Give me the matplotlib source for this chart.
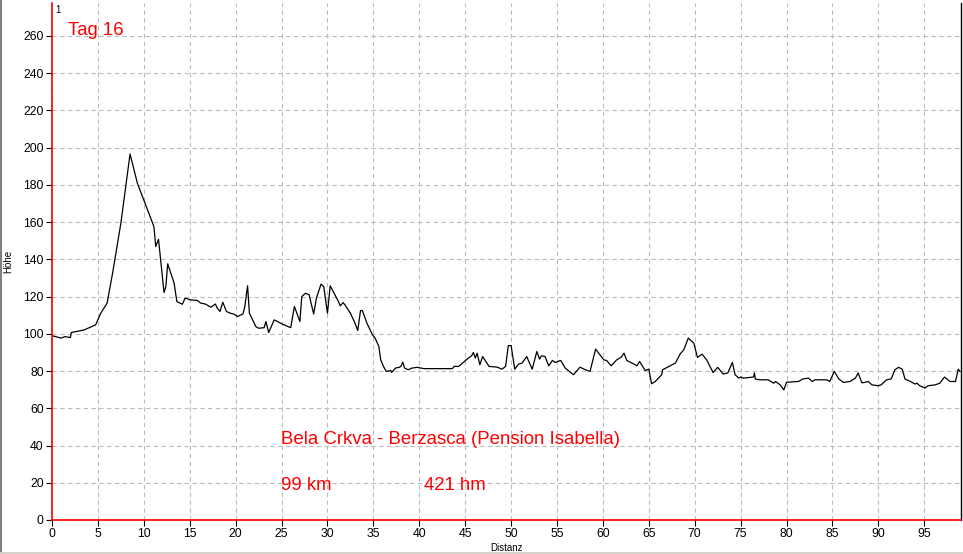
import matplotlib
matplotlib.use('Agg')
import matplotlib.pyplot as plt
from matplotlib.lines import Line2D

# Hoehenprofil Tag 16, Distanz in km, Hoehe in m
dist = [0.0, 0.6, 1.0, 1.4, 2.0, 2.1, 3.5, 4.75, 5.3, 6.0, 6.6, 7.5, 8.5, 9.3, 10.2,
        11.1, 11.3, 11.6, 12.2, 12.4, 12.6, 13.3, 13.6, 14.2, 14.5, 15.1, 15.8, 16.2,
        16.7, 17.3, 17.8, 18.0, 18.3, 18.6, 19.0, 19.4, 19.8, 20.2, 20.8, 21.0, 21.3,
        21.5, 22.2, 22.5, 23.1, 23.3, 23.6, 24.2, 25.1, 26.0, 26.4, 27.0, 27.2, 27.6,
        28.0, 28.5, 28.8, 29.3, 29.6, 30.0, 30.3, 31.2, 31.4, 31.7, 31.9, 32.5, 33.0,
        33.3, 33.6, 33.8, 34.3, 34.9, 35.2, 35.6, 35.8, 36.1, 36.4, 36.9, 37.0, 37.4,
        37.8, 38.0, 38.2, 38.4, 38.8, 39.2, 39.8, 40.5, 43.6, 43.8, 44.3, 45.2, 45.7,
        45.9, 46.1, 46.3, 46.6, 46.9, 47.6, 48.5, 49.0, 49.4, 49.7, 50.0, 50.4, 50.8,
        51.2, 51.7, 52.3, 52.8, 53.1, 53.3, 53.7, 54.1, 54.5, 54.8, 55.4, 55.9, 56.8,
        57.5, 58.1, 58.6, 59.2, 60.1, 60.4, 60.9, 61.5, 62.0, 62.3, 62.6, 63.4, 63.7,
        64.0, 64.6, 65.0, 65.3, 65.7, 66.4, 66.5, 67.0, 67.9, 68.4, 68.8, 69.3, 69.9,
        70.3, 70.8, 71.3, 72.0, 72.5, 73.1, 73.6, 74.1, 74.4, 74.8, 75.0, 75.3, 76.4,
        76.5, 76.6, 77.1, 78.0, 78.6, 78.8, 79.3, 79.7, 80.0, 81.3, 81.8, 82.4, 82.8,
        83.1, 84.4, 84.7, 85.2, 85.7, 86.2, 86.9, 87.5, 87.8, 88.2, 88.5, 88.9, 89.3,
        90.0, 90.3, 90.9, 91.4, 91.8, 92.2, 92.6, 92.9, 93.5, 94.0, 94.2, 94.5, 95.1,
        95.4, 96.2, 96.7, 97.2, 97.8, 98.4, 98.7, 98.9]
hoehe = [99.0, 98.2, 97.7, 98.5, 98.0, 100.7, 102.1, 104.8, 111.0, 116.5, 132.6, 159.4,
         196.6, 180.9, 169.2, 157.6, 146.9, 150.8, 122.2, 125.4, 137.6, 127.2, 117.3,
         115.9, 119.2, 118.2, 118.0, 116.5, 116.0, 114.3, 116.0, 113.8, 112.0, 117.0,
         112.0, 111.1, 110.6, 109.3, 110.7, 114.7, 125.8, 111.1, 103.9, 103.0, 103.3,
         106.6, 100.7, 107.5, 105.2, 103.3, 114.7, 106.6, 120.0, 121.8, 121.0, 110.6,
         119.2, 126.7, 125.3, 111.1, 125.8, 117.3, 115.0, 116.8, 115.6, 111.1, 105.7,
         101.8, 112.5, 112.5, 105.7, 99.5, 97.6, 93.2, 86.0, 82.5, 79.8, 80.3, 79.3,
         81.6, 82.0, 82.5, 84.8, 81.6, 80.7, 81.6, 82.0, 81.3, 81.3, 82.5, 82.5, 86.4,
         88.2, 90.0, 87.0, 89.6, 83.4, 87.8, 82.5, 82.1, 81.0, 82.5, 93.7, 93.7, 81.0,
         83.7, 84.3, 87.8, 81.0, 90.5, 86.4, 88.2, 87.8, 82.8, 85.7, 84.6, 85.7, 81.6,
         78.0, 82.1, 80.7, 79.8, 91.8, 86.0, 85.7, 82.8, 86.0, 87.5, 89.6, 85.7, 83.7,
         82.8, 85.1, 80.3, 81.0, 73.2, 74.4, 78.0, 80.7, 82.0, 84.3, 89.1, 91.4, 97.7,
         95.0, 87.3, 89.1, 86.0, 79.2, 82.0, 78.4, 79.0, 84.6, 78.0, 76.2, 76.8, 76.2,
         76.8, 79.0, 75.7, 75.3, 75.3, 73.5, 74.4, 72.6, 69.9, 74.0, 74.4, 75.8, 76.2,
         74.4, 75.3, 75.3, 74.4, 79.8, 75.7, 73.9, 74.4, 76.2, 79.0, 73.7, 73.9, 74.4,
         72.6, 72.1, 72.6, 75.3, 75.8, 80.7, 82.0, 81.0, 75.7, 74.4, 73.0, 73.5, 72.1,
         70.9, 72.1, 72.6, 73.5, 76.8, 74.4, 74.4, 81.0, 79.8]

xticks = list(range(0, 100, 5))
yticks = list(range(0, 261, 20))

titel = 'Tag 16'
strecke = 'Bela Crkva - Berzasca (Pension Isabella)'
km_text = '99 km'
hm_text = '421 hm'

plt.rcParams['font.family'] = ['Liberation Sans', 'DejaVu Sans']

fig = plt.figure(figsize=(9.63, 5.54), dpi=100)
ax = fig.add_axes([52/963, 34/554, 909/963, 517/554])

ax.plot(dist, hoehe, color='black', lw=0.9)

ax.set_xlim(0, 99)
ax.set_ylim(0, 277.7)
ax.set_xticks(xticks)
ax.set_yticks(yticks)
ax.tick_params(labelsize=8.8, length=4, width=0.8, pad=2, colors='black')
ax.grid(True, color='#bcbcbc', linestyle=(0, (4, 3)), lw=0.8)

for s in ('left', 'bottom'):
    ax.spines[s].set_color('red')
    ax.spines[s].set_linewidth(1.2)
ax.spines['right'].set_color('black')
ax.spines['right'].set_linewidth(1.0)
ax.spines['top'].set_visible(False)

ax.set_xlabel('Distanz', fontsize=7, labelpad=2)
ax.set_ylabel('Höhe', fontsize=7, labelpad=7)

ax.text(1.7, 263, titel, color='red', fontsize=13.3, va='center', ha='left')
ax.text(24.9, 43.2, strecke, color='red', fontsize=13.4, va='center', ha='left')
ax.text(24.9, 18.6, km_text, color='red', fontsize=13.4, va='center', ha='left')
ax.text(40.5, 18.6, hm_text, color='red', fontsize=13.4, va='center', ha='left')
ax.text(0.004, 0.997, '1', transform=ax.transAxes, fontsize=7, va='top', ha='left')

# grauer Rand links und unten
fig.add_artist(Line2D([0.001, 0.001], [0, 1], transform=fig.transFigure, color='#808080', lw=1.5))
fig.add_artist(Line2D([0, 1], [0.002, 0.002], transform=fig.transFigure, color='#d4d0c8', lw=2))

fig.savefig('out.png', dpi=100)
